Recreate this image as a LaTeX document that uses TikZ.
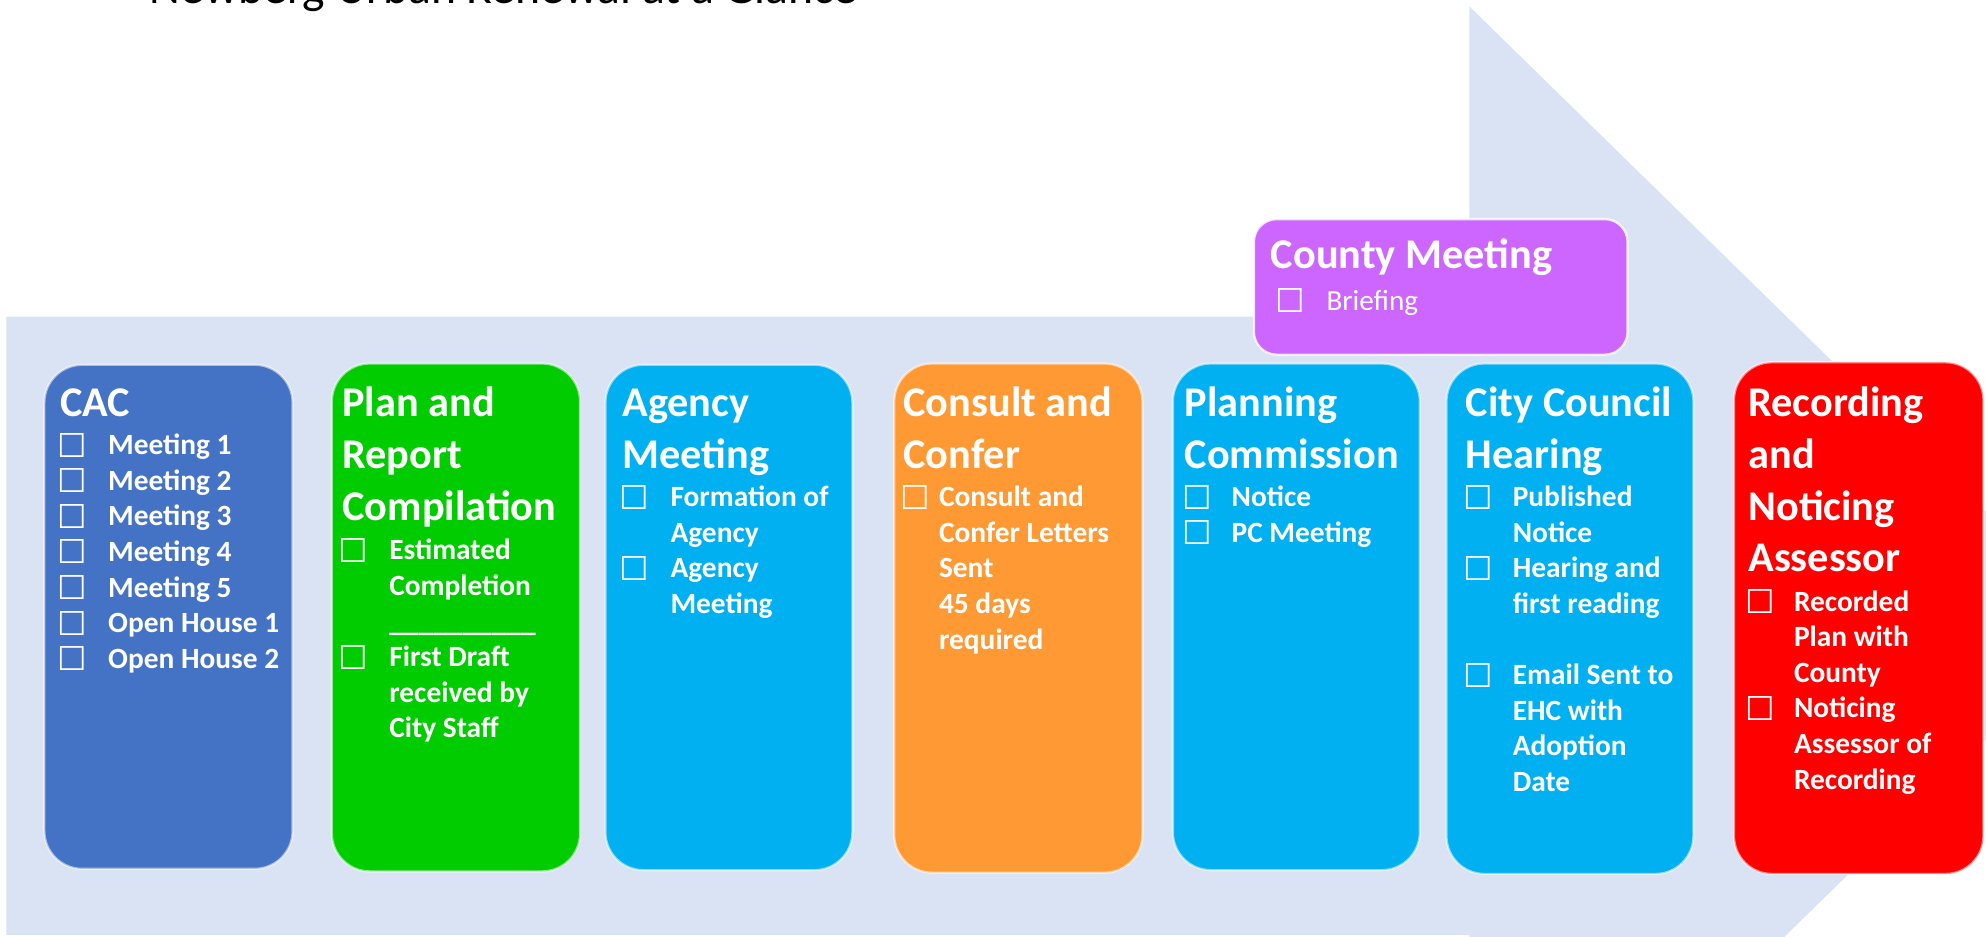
\documentclass[tikz,border=0pt]{standalone}
\usepackage{fontspec}
\setmainfont{Carlito}
\newfontfamily\dejavu{DejaVu Sans}
\definecolor{bgarrow}{HTML}{DAE3F3}
\definecolor{cacblue}{HTML}{4472C4}
\definecolor{plangreen}{HTML}{00CC00}
\definecolor{skyblue}{HTML}{00B0F0}
\definecolor{orng}{HTML}{FF9933}
\definecolor{redbox}{HTML}{FF0000}
\definecolor{purp}{HTML}{CC66FF}
\newcommand\ttlfont{\fontsize{16.7}{20.5}\selectfont\bfseries}
\newcommand\itmfont{\fontsize{11.6}{14}\selectfont\bfseries}
\newcommand\cbfont{\dejavu\fontsize{13}{14}\selectfont}
\newcommand\stagetitle[4]{%
  \foreach \t [count=\i] in {#4} {\node[ttl] (#1t\i) at (#2,{#3+40.8*(\i-1)}) {\t};}}
\newcommand\stageitems[5]{%
  \foreach \f/\t [count=\i] in {#5} {%
    \ifnum\f=1 \node[cbx] (#1b\i) at (#2,{#4+28.1*(\i-1)-7.5}) {☐};\fi
    \ifnum\f<2 \node[itm] (#1i\i) at (#3,{#4+28.1*(\i-1)}) {\t};\fi
  }}
\begin{document}
\begin{tikzpicture}[x=0.5pt,y=-0.5pt,
  stage/.style={rounded corners=15pt, draw=white, draw opacity=0.55, line width=0.9pt},
  ttl/.style={anchor=base west, inner sep=0pt, text=white, font=\ttlfont},
  itm/.style={anchor=base west, inner sep=0pt, text=white, font=\itmfont},
  cbx/.style={anchor=center, inner sep=0pt, text=white, font=\cbfont}]
\clip (0,0) rectangle (1568,739);
\fill[white] (0,0) rectangle (1568,739);
\fill[bgarrow] (5,250) -- (1160,250) -- (1160,5) -- (1660,494) -- (1160,983) -- (1160,738) -- (5,738) -- cycle;
\node[anchor=base west, inner sep=0pt, font=\fontsize{18.8}{22}\selectfont] (title) at (118,3) {Newberg Urban Renewal at a Glance};
% stage boxes
\draw[stage, fill=cacblue] (35,288) rectangle (231,686);
\draw[stage, fill=plangreen] (262,287) rectangle (458,688);
\draw[stage, fill=skyblue] (478,288) rectangle (673,687);
\draw[stage, fill=orng] (706,287) rectangle (902,689);
\draw[stage, fill=skyblue] (926,287) rectangle (1121,687);
\draw[stage, fill=skyblue] (1142,287) rectangle (1337,690);
\draw[stage, fill=redbox] (1369,286) rectangle (1566,690);
\draw[stage, rounded corners=9pt, draw opacity=0.8, fill=purp] (990,173) rectangle (1285,280);
% CAC
\stagetitle{cac}{47}{329}{CAC}
\stageitems{cac}{57}{85}{359}{1/Meeting 1,1/Meeting 2,1/Meeting 3,1/Meeting 4,1/Meeting 5,1/Open House 1,1/Open House 2}
% Plan and Report Compilation
\stagetitle{plan}{270}{329}{Plan and,Report,Compilation}
\stageitems{plan}{279}{307}{442}{1/Estimated,0/Completion,0/\_\_\_\_\_\_\_\_\_\_,1/First Draft,0/received by,0/City Staff}
% Agency Meeting
\stagetitle{agm}{491}{329}{Agency,Meeting}
\stageitems{agm}{501}{529}{400}{1/Formation of,0/Agency,1/Agency,0/Meeting}
% Consult and Confer
\stagetitle{cnc}{713}{329}{Consult and,Confer}
\stageitems{cnc}{723}{741}{400}{1/Consult and,0/Confer Letters,0/Sent,0/45 days,0/required}
% Planning Commission
\stagetitle{pcm}{935}{329}{Planning,Commission}
\stageitems{pcm}{945}{972}{400}{1/Notice,1/PC Meeting}
% City Council Hearing
\stagetitle{cch}{1157}{329}{City Council,Hearing}
\stageitems{cch}{1167}{1194}{400}{1/Published,0/Notice,1/Hearing and,0/first reading,2/x,1/Email Sent to,0/EHC with,0/Adoption,0/Date}
% Recording and Noticing Assessor
\stagetitle{rna}{1380}{329}{Recording,and,Noticing,Assessor}
\stageitems{rna}{1390}{1416}{482.5}{1/Recorded,0/Plan with,0/County,1/Noticing,0/Assessor of,0/Recording}
% County Meeting
\node[ttl] (cmt) at (1003,212) {County Meeting};
\node[cbx] (cmb) at (1019,237.5) {☐};
\node[anchor=base west, inner sep=0pt, text=white, font=\fontsize{11.5}{14}\selectfont] (cmi) at (1047,245) {Briefing};
\end{tikzpicture}
\end{document}
